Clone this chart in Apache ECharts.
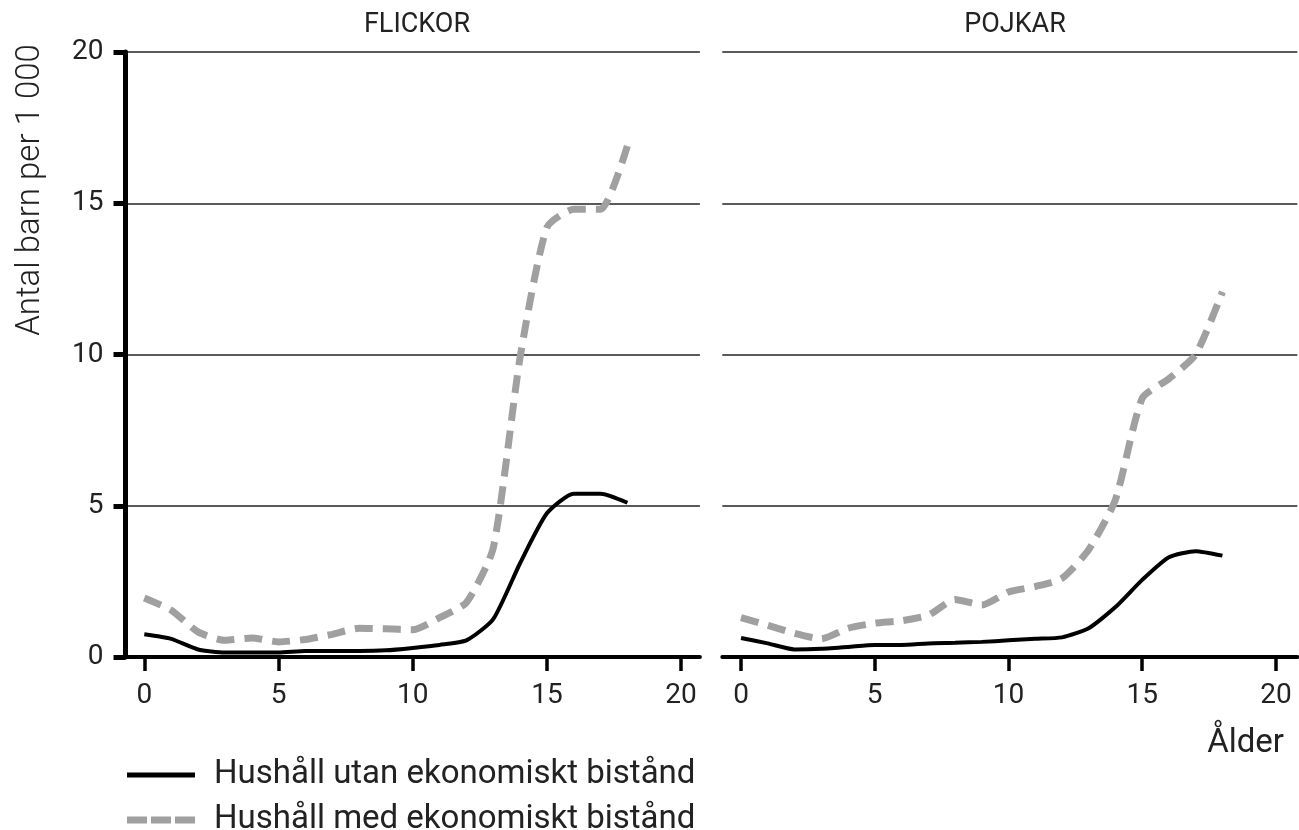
<!DOCTYPE html>
<html>
<head>
<meta charset="utf-8">
<script src="https://cdn.jsdelivr.net/npm/echarts@6/dist/echarts.min.js"></script>
<style>
  html, body { margin: 0; padding: 0; background: #fff; }
  #chart { width: 1299px; height: 830px; }
</style>
</head>
<body>
<div id="chart"></div>
<script>
// ålder 0-18
var ages = [0,1,2,3,4,5,6,7,8,9,10,11,12,13,14,15,16,17,18];
// flickor
var flickorUtan = [0.75,0.6,0.25,0.15,0.15,0.15,0.2,0.2,0.2,0.22,0.3,0.4,0.55,1.25,3.1,4.75,5.4,5.4,5.1];
var flickorMed = [1.95,1.55,0.83,0.55,0.63,0.5,0.58,0.75,0.95,0.93,0.9,1.3,1.8,3.6,9.9,14.2,14.8,14.8,16.9];
// pojkar
var pojkarUtan = [0.63,0.45,0.25,0.27,0.33,0.4,0.4,0.45,0.47,0.5,0.55,0.6,0.65,0.95,1.65,2.55,3.3,3.5,3.35];
var pojkarMed = [1.3,1.05,0.78,0.6,0.95,1.12,1.2,1.38,1.9,1.72,2.15,2.33,2.6,3.55,5.2,8.55,9.2,10.0,12.07];
// axlar
var xTicks = [0,5,10,15,20];
var nameUtan = 'Hushåll utan ekonomiskt bistånd';
var nameMed = 'Hushåll med ekonomiskt bistånd';

var font = 'Roboto, "DejaVu Sans", sans-serif';
var txtColor = '#222';
var grey = '#a0a0a0';

function pairs(vals) {
	var out = [];
	for (var i = 0; i < ages.length; i++) {
		out.push([ages[i], vals[i]]);
	}
	return out;
}

function xAxisFor(idx, maxV) {
	return {
		type: 'value',
		gridIndex: idx,
		min: -0.7,
		max: maxV,
		axisLine: { show: true, onZero: false, lineStyle: { color: '#000', width: 4 } },
		axisTick: { show: true, customValues: xTicks, length: 14, lineStyle: { color: '#000', width: 3.5 } },
		axisLabel: { customValues: xTicks, color: txtColor, fontSize: 28, fontFamily: font, margin: 25 },
		splitLine: { show: false }
	};
}

function solid(name, vals, idx) {
	return {
		name: name,
		type: 'line',
		xAxisIndex: idx,
		yAxisIndex: idx,
		data: pairs(vals),
		symbol: 'none',
		showSymbol: false,
		smooth: 0.2,
		z: 4,
		lineStyle: { color: '#000', width: 4 },
		itemStyle: { color: '#000' }
	};
}

function dashed(name, vals, idx) {
	return {
		name: name,
		type: 'line',
		xAxisIndex: idx,
		yAxisIndex: idx,
		data: pairs(vals),
		symbol: 'none',
		showSymbol: false,
		smooth: 0.2,
		z: 3,
		lineStyle: { color: grey, width: 7, type: [18, 10] },
		itemStyle: { color: grey }
	};
}

function legendFor(name, top, icon, h) {
	return {
		left: 122,
		top: top,
		itemWidth: 68,
		itemHeight: h,
		icon: icon,
		data: [name],
		textStyle: { fontFamily: font, fontSize: 33, color: txtColor, lineHeight: 40, padding: [0, 0, 0, 14] }
	};
}

var chart = echarts.init(document.getElementById('chart'));
var option = {
	animation: false,
	backgroundColor: '#fff',
	title: [
		{ text: 'FLICKOR', left: 412, top: 7, textAlign: 'center',
		  textStyle: { fontFamily: font, fontSize: 27, fontWeight: 'normal', color: txtColor } },
		{ text: 'POJKAR', left: 1010, top: 7, textAlign: 'center',
		  textStyle: { fontFamily: font, fontSize: 27, fontWeight: 'normal', color: txtColor } },
		{ text: 'Ålder', right: 10, top: 722,
		  textStyle: { fontFamily: font, fontSize: 33, fontWeight: 'normal', color: txtColor } }
	],
	graphic: [{
		type: 'text',
		x: 31,
		y: 190,
		rotation: Math.PI / 2,
		style: {
			text: 'Antal barn per 1 000',
			fontFamily: font,
			fontSize: 33,
			fontWeight: 300,
			fill: txtColor,
			align: 'center',
			verticalAlign: 'middle'
		}
	}],
	legend: [
		legendFor(nameUtan, 750, 'path://M0,0 L68,0 L68,5 L0,5 Z', 5),
		legendFor(nameMed, 795, 'path://M0,0 L20,0 L20,7 L0,7 Z M24,0 L44,0 L44,7 L24,7 Z M48,0 L68,0 L68,7 L48,7 Z', 7)
	],
	grid: [
		{ left: 125.5, width: 574.4, top: 52, bottom: 173 },
		{ left: 722.3, width: 575, top: 52, bottom: 173 }
	],
	xAxis: [xAxisFor(0, 20.7), xAxisFor(1, 20.8)],
	yAxis: [
		{
			type: 'value',
			gridIndex: 0,
			min: 0,
			max: 20,
			interval: 5,
			axisLine: { show: true, onZero: false, lineStyle: { color: '#000', width: 5 } },
			axisTick: { show: true, length: 12, lineStyle: { color: '#000', width: 5 } },
			axisLabel: { color: txtColor, fontSize: 28, fontFamily: font, margin: 22 },
			splitLine: { show: true, lineStyle: { color: '#222', width: 1.5 } }
		},
		{
			type: 'value',
			gridIndex: 1,
			min: 0,
			max: 20,
			interval: 5,
			axisLine: { show: false },
			axisTick: { show: false },
			axisLabel: { show: false },
			splitLine: { show: true, lineStyle: { color: '#222', width: 1.5 } }
		}
	],
	series: [
		solid(nameUtan, flickorUtan, 0),
		dashed(nameMed, flickorMed, 0),
		solid(nameUtan, pojkarUtan, 1),
		dashed(nameMed, pojkarMed, 1)
	]
};
chart.setOption(option);
</script>
</body>
</html>
